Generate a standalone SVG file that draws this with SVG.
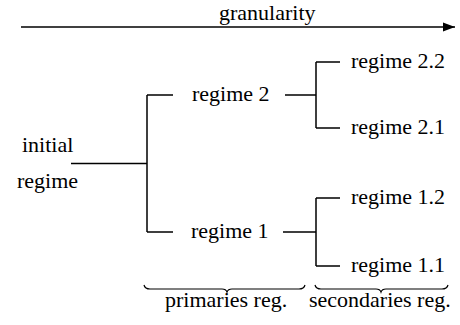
<svg xmlns="http://www.w3.org/2000/svg" width="460" height="325" viewBox="0 0 460 325">
<defs>
<marker id="ah" markerWidth="12" markerHeight="10" refX="12" refY="5" orient="auto" markerUnits="userSpaceOnUse">
<path d="M0,0.5 L12,5 L0,9.5 Z" fill="#000"/>
</marker>
</defs>
<style>
.ln{fill:none;stroke:#000;stroke-width:1.5}
.br{fill:none;stroke:#000;stroke-width:1.2}
</style>
<rect width="460" height="325" fill="#fff"/>
<g id="axis">
<line class="ln" x1="21" y1="27" x2="455" y2="27" marker-end="url(#ah)"/>
<text x="219" y="20" font-family="Liberation Serif, Times New Roman, serif" font-size="22" fill="#000">granularity</text>
</g>
<g id="connectors">
<path class="ln" d="M71,163.5 H147 M147,95 V232 M147,95 H173 M147,232 H173"/>
<path class="ln" d="M285,95 H316 M316,62 V128 M316,62 H340 M316,128 H340"/>
<path class="ln" d="M283,232 H316 M316,198 V266 M316,198 H340 M316,266 H340"/>
</g>
<g id="initial">
<text x="22" y="152" font-family="Liberation Serif, Times New Roman, serif" font-size="22" fill="#000">initial</text>
<text x="17" y="188" font-family="Liberation Serif, Times New Roman, serif" font-size="22" fill="#000">regime</text>
</g>
<g id="regime2"><text x="192" y="101" font-family="Liberation Serif, Times New Roman, serif" font-size="22" fill="#000">regime 2</text></g>
<g id="regime1"><text x="191" y="238" font-family="Liberation Serif, Times New Roman, serif" font-size="22" fill="#000">regime 1</text></g>
<g id="regime22"><text x="351" y="68" font-family="Liberation Serif, Times New Roman, serif" font-size="22" fill="#000">regime 2.2</text></g>
<g id="regime21"><text x="351" y="134" font-family="Liberation Serif, Times New Roman, serif" font-size="22" fill="#000">regime 2.1</text></g>
<g id="regime12"><text x="351" y="204" font-family="Liberation Serif, Times New Roman, serif" font-size="22" fill="#000">regime 1.2</text></g>
<g id="regime11"><text x="351" y="272" font-family="Liberation Serif, Times New Roman, serif" font-size="22" fill="#000">regime 1.1</text></g>
<g id="primaries">
<path class="br" d="M144,285 Q145,289 150,289 H222 Q226,289 227,292 Q228,289 232,289 H299 Q304,289 305,285"/>
<text x="165" y="307" font-family="Liberation Serif, Times New Roman, serif" font-size="22" fill="#000">primaries reg.</text>
</g>
<g id="secondaries">
<path class="br" d="M315,285 Q316,289 321,289 H376 Q380,289 381,292 Q382,289 386,289 H442 Q447,289 448,285"/>
<text x="309" y="307" font-family="Liberation Serif, Times New Roman, serif" font-size="22" fill="#000">secondaries reg.</text>
</g>
</svg>
